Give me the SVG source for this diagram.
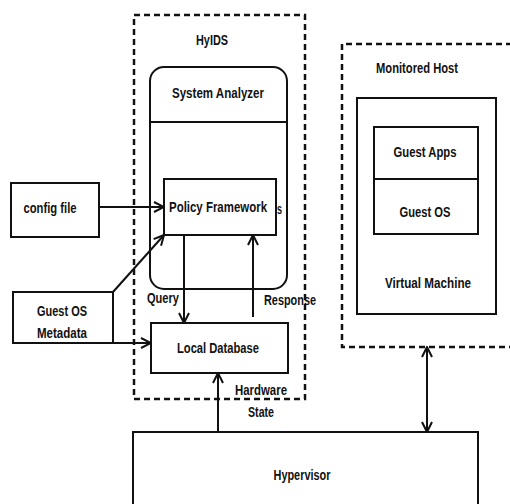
<svg xmlns="http://www.w3.org/2000/svg" width="510" height="504" viewBox="0 0 510 504">
<style>
.box{fill:none;stroke:#111;stroke-width:2}
.dash{fill:none;stroke:#111;stroke-width:2.5;stroke-dasharray:6 4}
.t{font-family:"Liberation Sans Narrow","Liberation Sans",Arial,sans-serif;font-size:15px;font-weight:bold;fill:#111;text-anchor:middle}
.tl{font-family:"Liberation Sans Narrow","Liberation Sans",Arial,sans-serif;font-size:15px;font-weight:bold;fill:#111;text-anchor:start}
.c{fill:none;stroke:#111;stroke-width:2}
</style>
<defs>
<marker id="ah" viewBox="0 0 12 12" refX="11" refY="6" markerWidth="12" markerHeight="12" markerUnits="userSpaceOnUse" orient="auto-start-reverse">
<path d="M1,1 L11,6 L1,11" fill="none" stroke="#111" stroke-width="2"/>
</marker>
</defs>
<rect width="510" height="504" fill="#fff"/>

<g id="hyids">
<rect class="dash" x="134" y="15" width="171" height="384"/>
<text class="t" x="212" y="45" textLength="32" lengthAdjust="spacingAndGlyphs">HyIDS</text>
</g>

<g id="system-analyzer">
<rect class="box" x="150" y="67" width="137" height="222" rx="14"/>
<line class="box" x1="150" y1="122" x2="287" y2="122"/>
<text class="t" x="218" y="98" textLength="92" lengthAdjust="spacingAndGlyphs">System Analyzer</text>
</g>

<g id="policy-framework">
<text class="tl" x="277" y="214" font-size="11" textLength="5" lengthAdjust="spacingAndGlyphs">s</text>
<rect class="box" x="164" y="179" width="112" height="56"/>
<text class="t" x="218" y="212" textLength="98" lengthAdjust="spacingAndGlyphs">Policy Framework</text>
</g>

<g id="local-database">
<rect class="box" x="151" y="323" width="137" height="50"/>
<text class="t" x="218" y="353" textLength="82" lengthAdjust="spacingAndGlyphs">Local Database</text>
</g>

<g id="config-file">
<rect class="box" x="11" y="183" width="88" height="54"/>
<text class="t" x="50" y="213" textLength="53" lengthAdjust="spacingAndGlyphs">config file</text>
</g>

<g id="guest-os-metadata">
<rect class="box" x="13" y="292" width="100" height="51"/>
<text class="t" x="62" y="316" textLength="50" lengthAdjust="spacingAndGlyphs">Guest OS</text>
<text class="t" x="62" y="338" textLength="50" lengthAdjust="spacingAndGlyphs">Metadata</text>
</g>

<g id="monitored-host">
<path class="dash" d="M512,44 H342 V347 H512"/>
<text class="t" x="417" y="73" textLength="82" lengthAdjust="spacingAndGlyphs">Monitored Host</text>
</g>

<g id="virtual-machine">
<rect class="box" x="357" y="98" width="139" height="216"/>
<text class="t" x="428" y="288" textLength="86" lengthAdjust="spacingAndGlyphs">Virtual Machine</text>
</g>

<g id="guest-apps">
<rect class="box" x="374" y="127" width="104" height="52"/>
<text class="t" x="425" y="157" textLength="63" lengthAdjust="spacingAndGlyphs">Guest Apps</text>
</g>

<g id="guest-os">
<rect class="box" x="374" y="179" width="104" height="55"/>
<text class="t" x="425" y="217" textLength="51" lengthAdjust="spacingAndGlyphs">Guest OS</text>
</g>

<g id="hypervisor">
<rect class="box" x="133" y="432" width="345" height="90"/>
<text class="t" x="302" y="480" textLength="57" lengthAdjust="spacingAndGlyphs">Hypervisor</text>
</g>

<g id="connectors">
<line class="c" x1="99" y1="207" x2="164" y2="207" marker-end="url(#ah)"/>
<line class="c" x1="113" y1="292" x2="164" y2="235" marker-end="url(#ah)"/>
<line class="c" x1="113" y1="343" x2="151" y2="343" marker-end="url(#ah)"/>
<line class="c" x1="184" y1="235" x2="184" y2="323" marker-end="url(#ah)"/>
<line class="c" x1="253" y1="317" x2="253" y2="235" marker-end="url(#ah)"/>
<line class="c" x1="218" y1="432" x2="218" y2="373" marker-end="url(#ah)"/>
<line class="c" x1="427" y1="347" x2="427" y2="432" marker-start="url(#ah)" marker-end="url(#ah)"/>
<text class="tl" x="147" y="303" textLength="32" lengthAdjust="spacingAndGlyphs">Query</text>
<text class="tl" x="264" y="305" textLength="52" lengthAdjust="spacingAndGlyphs">Response</text>
<text class="tl" x="235" y="395" textLength="52" lengthAdjust="spacingAndGlyphs">Hardware</text>
<text class="t" x="261" y="417" textLength="26" lengthAdjust="spacingAndGlyphs">State</text>
</g>
</svg>
